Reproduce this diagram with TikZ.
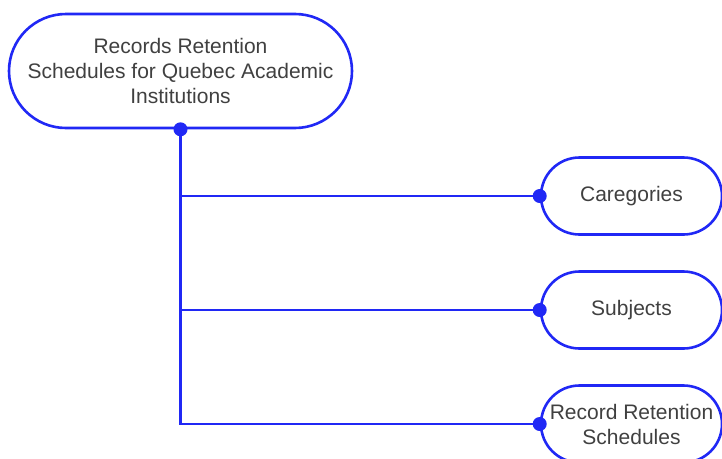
\documentclass[tikz,border=0pt]{standalone}
\usepackage{fontspec}
\setmainfont{Liberation Sans}
\usepackage{xcolor}
\usepackage{tikz}
\usetikzlibrary{shapes.misc, positioning}

\definecolor{linkblue}{RGB}{32,40,245}
\definecolor{textgrey}{RGB}{64,64,64}

\begin{document}
\begin{tikzpicture}[x=1pt, y=-1pt,
			topic/.style={rounded rectangle, draw=linkblue, line width=2.6pt,
				text=textgrey, align=center, inner sep=0pt,
				font=\fontsize{21}{25}\selectfont},
			link/.style={draw=linkblue, line width=2.6pt},
			knob/.style={fill=linkblue}]
			\useasboundingbox (0,0) rectangle (722,458);
			
%			\node (Root) [red] {...}
			\node (Root) [topic, minimum width=343pt, minimum height=114pt] at (180.5,71)
				{Records Retention\\Schedules for Quebec Academic\\Institutions};
			
			% the three branches on the right
			\node (Cat) [topic, minimum width=181pt, minimum height=77pt] at (631.5,196) {Caregories};
			\node (Subj) [topic, minimum width=181pt, minimum height=77pt] at (631.5,310) {Subjects};
			\node (Sched) [topic, minimum width=181pt, minimum height=77pt] at (631.5,424)
				{Record Retention\\Schedules};
			
			\draw[link] (Root.south) |- (Cat.west);
			\draw[link] (Root.south) |- (Subj.west);
			\draw[link] (Root.south) |- (Sched.west);
			
			\fill[knob] (Root.south) circle (7pt);
			\fill[knob] (Cat.west) circle (7pt);
			\fill[knob] (Subj.west) circle (7pt);
			\fill[knob] (Sched.west) circle (7pt);
		\end{tikzpicture}
\end{document}
